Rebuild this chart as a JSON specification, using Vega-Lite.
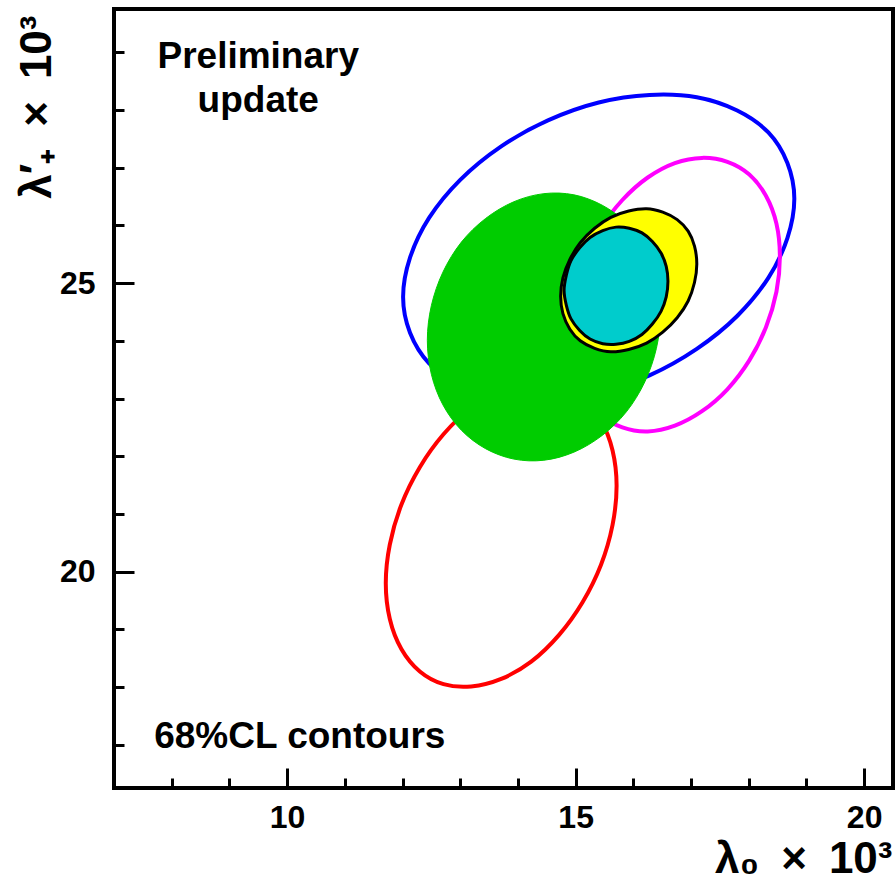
{
  "$schema": "https://vega.github.io/schema/vega-lite/v6.json",
  "autosize": {"type": "none"},
  "padding": {"left": 114, "top": 9, "right": 3, "bottom": 95},
  "width": 779,
  "height": 779,
  "background": "white",
  "config": {"view": {"stroke": "black", "strokeWidth": 4}, "font": "Liberation Sans"},
  "datasets": {
    "contours": [
      {"c":"blue","i":0,"x":18.79,"y":26.46},{"c":"blue","i":1,"x":18.67,"y":27.08},{"c":"blue","i":2,"x":18.34,"y":27.61},{"c":"blue","i":3,"x":17.80,"y":27.99},{"c":"blue","i":4,"x":17.10,"y":28.22},{"c":"blue","i":5,"x":16.28,"y":28.26},{"c":"blue","i":6,"x":15.40,"y":28.13},{"c":"blue","i":7,"x":14.52,"y":27.82},{"c":"blue","i":8,"x":13.71,"y":27.37},{"c":"blue","i":9,"x":13.00,"y":26.79},{"c":"blue","i":10,"x":12.46,"y":26.13},{"c":"blue","i":11,"x":12.13,"y":25.44},{"c":"blue","i":12,"x":12.01,"y":24.76},{"c":"blue","i":13,"x":12.13,"y":24.14},{"c":"blue","i":14,"x":12.46,"y":23.61},{"c":"blue","i":15,"x":13.00,"y":23.23},{"c":"blue","i":16,"x":13.71,"y":23.00},{"c":"blue","i":17,"x":14.52,"y":22.96},{"c":"blue","i":18,"x":15.40,"y":23.09},{"c":"blue","i":19,"x":16.28,"y":23.40},{"c":"blue","i":20,"x":17.10,"y":23.86},{"c":"blue","i":21,"x":17.80,"y":24.43},{"c":"blue","i":22,"x":18.34,"y":25.09},{"c":"blue","i":23,"x":18.67,"y":25.78},
      {"c":"magenta","i":0,"x":18.54,"y":25.46},{"c":"magenta","i":1,"x":18.48,"y":26.03},{"c":"magenta","i":2,"x":18.30,"y":26.51},{"c":"magenta","i":3,"x":18.01,"y":26.88},{"c":"magenta","i":4,"x":17.63,"y":27.10},{"c":"magenta","i":5,"x":17.19,"y":27.17},{"c":"magenta","i":6,"x":16.72,"y":27.08},{"c":"magenta","i":7,"x":16.25,"y":26.83},{"c":"magenta","i":8,"x":15.81,"y":26.44},{"c":"magenta","i":9,"x":15.43,"y":25.94},{"c":"magenta","i":10,"x":15.14,"y":25.36},{"c":"magenta","i":11,"x":14.96,"y":24.75},{"c":"magenta","i":12,"x":14.90,"y":24.14},{"c":"magenta","i":13,"x":14.96,"y":23.57},{"c":"magenta","i":14,"x":15.14,"y":23.09},{"c":"magenta","i":15,"x":15.43,"y":22.72},{"c":"magenta","i":16,"x":15.81,"y":22.50},{"c":"magenta","i":17,"x":16.25,"y":22.43},{"c":"magenta","i":18,"x":16.72,"y":22.53},{"c":"magenta","i":19,"x":17.19,"y":22.78},{"c":"magenta","i":20,"x":17.63,"y":23.16},{"c":"magenta","i":21,"x":18.01,"y":23.66},{"c":"magenta","i":22,"x":18.30,"y":24.24},{"c":"magenta","i":23,"x":18.48,"y":24.85},
      {"c":"red","i":0,"x":15.71,"y":21.49},{"c":"red","i":1,"x":15.64,"y":22.10},{"c":"red","i":2,"x":15.44,"y":22.62},{"c":"red","i":3,"x":15.12,"y":23.01},{"c":"red","i":4,"x":14.71,"y":23.23},{"c":"red","i":5,"x":14.23,"y":23.27},{"c":"red","i":6,"x":13.71,"y":23.14},{"c":"red","i":7,"x":13.19,"y":22.84},{"c":"red","i":8,"x":12.71,"y":22.38},{"c":"red","i":9,"x":12.30,"y":21.81},{"c":"red","i":10,"x":11.98,"y":21.16},{"c":"red","i":11,"x":11.78,"y":20.47},{"c":"red","i":12,"x":11.71,"y":19.80},{"c":"red","i":13,"x":11.78,"y":19.18},{"c":"red","i":14,"x":11.98,"y":18.66},{"c":"red","i":15,"x":12.30,"y":18.27},{"c":"red","i":16,"x":12.71,"y":18.05},{"c":"red","i":17,"x":13.19,"y":18.01},{"c":"red","i":18,"x":13.71,"y":18.14},{"c":"red","i":19,"x":14.23,"y":18.44},{"c":"red","i":20,"x":14.71,"y":18.90},{"c":"red","i":21,"x":15.12,"y":19.47},{"c":"red","i":22,"x":15.44,"y":20.12},{"c":"red","i":23,"x":15.64,"y":20.81},
      {"c":"green","i":0,"x":16.47,"y":24.47},{"c":"green","i":1,"x":16.40,"y":25.06},{"c":"green","i":2,"x":16.20,"y":25.59},{"c":"green","i":3,"x":15.88,"y":26.04},{"c":"green","i":4,"x":15.46,"y":26.35},{"c":"green","i":5,"x":14.97,"y":26.53},{"c":"green","i":6,"x":14.45,"y":26.55},{"c":"green","i":7,"x":13.93,"y":26.41},{"c":"green","i":8,"x":13.44,"y":26.12},{"c":"green","i":9,"x":13.02,"y":25.71},{"c":"green","i":10,"x":12.70,"y":25.19},{"c":"green","i":11,"x":12.50,"y":24.61},{"c":"green","i":12,"x":12.43,"y":24.01},{"c":"green","i":13,"x":12.50,"y":23.42},{"c":"green","i":14,"x":12.70,"y":22.89},{"c":"green","i":15,"x":13.02,"y":22.45},{"c":"green","i":16,"x":13.44,"y":22.13},{"c":"green","i":17,"x":13.93,"y":21.95},{"c":"green","i":18,"x":14.45,"y":21.93},{"c":"green","i":19,"x":14.97,"y":22.07},{"c":"green","i":20,"x":15.46,"y":22.36},{"c":"green","i":21,"x":15.88,"y":22.77},{"c":"green","i":22,"x":16.20,"y":23.29},{"c":"green","i":23,"x":16.40,"y":23.87},
      {"c":"yellow","i":0,"x":17.10,"y":25.33},{"c":"yellow","i":1,"x":17.06,"y":25.64},{"c":"yellow","i":2,"x":16.95,"y":25.90},{"c":"yellow","i":3,"x":16.76,"y":26.10},{"c":"yellow","i":4,"x":16.51,"y":26.23},{"c":"yellow","i":5,"x":16.23,"y":26.29},{"c":"yellow","i":6,"x":15.92,"y":26.25},{"c":"yellow","i":7,"x":15.61,"y":26.14},{"c":"yellow","i":8,"x":15.33,"y":25.95},{"c":"yellow","i":9,"x":15.08,"y":25.70},{"c":"yellow","i":10,"x":14.90,"y":25.41},{"c":"yellow","i":11,"x":14.78,"y":25.09},{"c":"yellow","i":12,"x":14.74,"y":24.77},{"c":"yellow","i":13,"x":14.78,"y":24.47},{"c":"yellow","i":14,"x":14.90,"y":24.20},{"c":"yellow","i":15,"x":15.08,"y":24.00},{"c":"yellow","i":16,"x":15.33,"y":23.87},{"c":"yellow","i":17,"x":15.61,"y":23.81},{"c":"yellow","i":18,"x":15.92,"y":23.85},{"c":"yellow","i":19,"x":16.23,"y":23.96},{"c":"yellow","i":20,"x":16.51,"y":24.15},{"c":"yellow","i":21,"x":16.76,"y":24.40},{"c":"yellow","i":22,"x":16.95,"y":24.69},{"c":"yellow","i":23,"x":17.06,"y":25.01},
      {"c":"cyan","i":0,"x":16.60,"y":25.03},{"c":"cyan","i":1,"x":16.57,"y":25.29},{"c":"cyan","i":2,"x":16.48,"y":25.52},{"c":"cyan","i":3,"x":16.33,"y":25.72},{"c":"cyan","i":4,"x":16.15,"y":25.87},{"c":"cyan","i":5,"x":15.93,"y":25.95},{"c":"cyan","i":6,"x":15.70,"y":25.97},{"c":"cyan","i":7,"x":15.47,"y":25.91},{"c":"cyan","i":8,"x":15.25,"y":25.79},{"c":"cyan","i":9,"x":15.07,"y":25.61},{"c":"cyan","i":10,"x":14.92,"y":25.39},{"c":"cyan","i":11,"x":14.84,"y":25.14},{"c":"cyan","i":12,"x":14.80,"y":24.87},{"c":"cyan","i":13,"x":14.84,"y":24.61},{"c":"cyan","i":14,"x":14.92,"y":24.38},{"c":"cyan","i":15,"x":15.07,"y":24.18},{"c":"cyan","i":16,"x":15.25,"y":24.03},{"c":"cyan","i":17,"x":15.47,"y":23.95},{"c":"cyan","i":18,"x":15.70,"y":23.94},{"c":"cyan","i":19,"x":15.93,"y":23.99},{"c":"cyan","i":20,"x":16.15,"y":24.11},{"c":"cyan","i":21,"x":16.33,"y":24.29},{"c":"cyan","i":22,"x":16.48,"y":24.51},{"c":"cyan","i":23,"x":16.57,"y":24.76}
    ],
    "notes": [
      {"text":"Preliminary","x":9.50,"y":28.73},
      {"text":"update","x":9.50,"y":27.97},
      {"text":"68%CL contours","x":10.22,"y":16.94}
    ]
  },
  "encoding": {
    "x": {
      "field": "x", "type": "quantitative",
      "scale": {"domain": [7, 20.5], "nice": false, "zero": false},
      "axis": {
        "values": [8,9,10,11,12,13,14,15,16,17,18,19,20],
        "labelExpr": "datum.value % 5 === 0 ? datum.label : ''",
        "tickSize": {"condition": {"test": "datum.value % 5 === 0", "value": -20}, "value": -10},
        "tickWidth": 3, "tickColor": "black", "domain": false, "grid": false,
        "labelFont": "Liberation Sans", "labelFontWeight": "bold", "labelFontSize": 32, "labelColor": "black",
        "labelPadding": 34, "labelFlush": false, "labelOverlap": false,
        "title": "λ₀\u2002×\u200210³", "titleFont": "Liberation Sans", "titleFontWeight": "bold", "titleFontSize": 44, "titleColor": "black",
        "titleAnchor": "end", "titleAlign": "right", "titleBaseline": "alphabetic", "titleX": 778, "titleY": 84
      }
    },
    "y": {
      "field": "y", "type": "quantitative",
      "scale": {"domain": [16.25, 29.75], "nice": false, "zero": false},
      "axis": {
        "values": [17,18,19,20,21,22,23,24,25,26,27,28,29],
        "labelExpr": "datum.value % 5 === 0 ? datum.label : ''",
        "tickSize": {"condition": {"test": "datum.value % 5 === 0", "value": -20}, "value": -10},
        "tickWidth": 3, "tickColor": "black", "domain": false, "grid": false,
        "labelFont": "Liberation Sans", "labelFontWeight": "bold", "labelFontSize": 32, "labelColor": "black",
        "labelPadding": 39, "labelFlush": false, "labelOverlap": false,
        "title": "λ′₊\u2002×\u200210³", "titleFont": "Liberation Sans", "titleFontWeight": "bold", "titleFontSize": 44, "titleColor": "black",
        "titleAngle": -90, "titleAnchor": "end", "titleAlign": "right", "titleBaseline": "alphabetic", "titleX": -64, "titleY": 6
      }
    }
  },
  "layer": [
    {"data": {"name": "contours"}, "transform": [{"filter": "datum.c === 'blue'"}],
     "mark": {"type": "line", "interpolate": "cardinal-closed", "stroke": "#0000ff", "strokeWidth": 4},
     "encoding": {"order": {"field": "i", "type": "quantitative"}}},
    {"data": {"name": "contours"}, "transform": [{"filter": "datum.c === 'magenta'"}],
     "mark": {"type": "line", "interpolate": "cardinal-closed", "stroke": "#ff00ff", "strokeWidth": 4},
     "encoding": {"order": {"field": "i", "type": "quantitative"}}},
    {"data": {"name": "contours"}, "transform": [{"filter": "datum.c === 'red'"}],
     "mark": {"type": "line", "interpolate": "cardinal-closed", "stroke": "#ff0000", "strokeWidth": 4},
     "encoding": {"order": {"field": "i", "type": "quantitative"}}},
    {"data": {"name": "contours"}, "transform": [{"filter": "datum.c === 'green'"}],
     "mark": {"type": "line", "interpolate": "cardinal-closed", "fill": "#00cc00", "stroke": "#00cc00", "strokeWidth": 1},
     "encoding": {"order": {"field": "i", "type": "quantitative"}}},
    {"data": {"name": "contours"}, "transform": [{"filter": "datum.c === 'yellow'"}],
     "mark": {"type": "line", "interpolate": "cardinal-closed", "fill": "#ffff00", "stroke": "black", "strokeWidth": 3},
     "encoding": {"order": {"field": "i", "type": "quantitative"}}},
    {"data": {"name": "contours"}, "transform": [{"filter": "datum.c === 'cyan'"}],
     "mark": {"type": "line", "interpolate": "cardinal-closed", "fill": "#00cccc", "stroke": "black", "strokeWidth": 3},
     "encoding": {"order": {"field": "i", "type": "quantitative"}}},
    {"data": {"name": "notes"},
     "mark": {"type": "text", "align": "center", "baseline": "alphabetic", "font": "Liberation Sans", "fontWeight": "bold", "fontSize": 37, "color": "black"},
     "encoding": {"text": {"field": "text", "type": "nominal"}}}
  ]
}
